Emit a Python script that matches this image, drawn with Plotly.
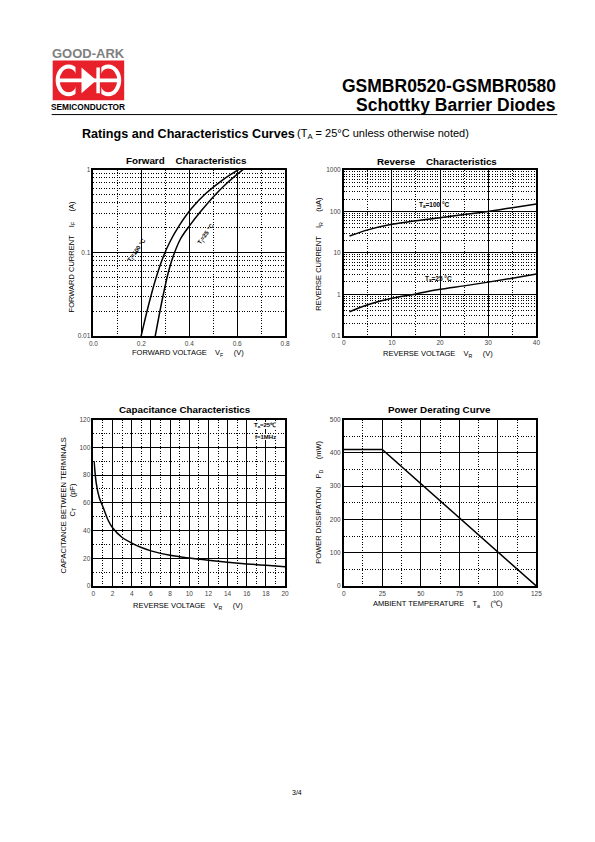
import plotly.graph_objects as go

PAGE_W, PAGE_H = 595, 842
FIG_W, FIG_H = 602, 842   # the snapshot squeezes the page slightly in width
FONT = "Liberation Sans, Arial, sans-serif"

# ---------------- data ----------------
fwd_vf_100 = [0.199, 0.23, 0.26, 0.29, 0.32, 0.36, 0.41, 0.47, 0.54, 0.606]
fwd_if_100 = [0.01, 0.0235, 0.0486, 0.0875, 0.137, 0.217, 0.344, 0.52, 0.755, 1.0]
fwd_vf_25 = [0.258, 0.29, 0.315, 0.338, 0.365, 0.40, 0.45, 0.50, 0.56, 0.624]
fwd_if_25 = [0.01, 0.030, 0.062, 0.1, 0.15, 0.21, 0.32, 0.47, 0.70, 1.0]

rev_vr = [1.2, 5, 10, 15, 20, 25, 30, 35, 40]
rev_ir_100 = [25.5, 36, 49, 60, 71, 85, 100, 124, 151]
rev_ir_25 = [0.38, 0.56, 0.80, 1.02, 1.32, 1.60, 1.97, 2.45, 3.1]

cap_vr = [0.07, 0.3, 0.6, 1.0, 1.5, 2.0, 3.0, 4.0, 5.0, 6.0, 8.0, 10.0, 12.0, 14.0, 16.0, 18.0, 20.0]
cap_ct = [90, 74, 64, 57, 48, 42, 35, 31, 27.8, 25.4, 22.2, 20.2, 18.6, 17.2, 16.0, 15.0, 14.0]

pd_ta = [0, 25, 125]
pd_mw = [410, 410, 0]

fwd_yticks = [0.01, 0.1, 1]
fwd_yticktext = ["0.01", "0.1", "1"]
rev_yticks = [0.1, 1, 10, 100, 1000]
rev_yticktext = ["0.1", "1", "10", "100", "1000"]


def px(x):
    return x / PAGE_W


def py(y):
    return 1 - y / PAGE_H


fig = go.Figure()

boxes = {
    "1": (89, 282, 167, 335),
    "2": (341, 535, 167.5, 334.5),
    "3": (89, 282, 419, 587),
    "4": (341, 535, 419, 587),
}

tickfont = dict(family=FONT, size=6.5, color="#444")
DOTS = "1px,1.6px"


def axis_common(dom, major, minor, rng, axtype="linear", tickvals=None, ticktext=None, fmt=None):
    d = dict(
        domain=dom, range=rng, type=axtype,
        showline=True, linecolor="black", linewidth=1.5, mirror=True,
        showgrid=True, gridcolor="black", gridwidth=1,
        ticks="", tickfont=tickfont, zeroline=False, fixedrange=True,
        minor=dict(showgrid=True, gridcolor="black", gridwidth=1, griddash=DOTS, dtick=minor),
    )
    if tickvals is not None:
        d["tickvals"] = tickvals
        d["ticktext"] = ticktext
    else:
        d["dtick"] = major
        d["tick0"] = 0
    if fmt:
        d["tickformat"] = fmt
    return d


layout_axes = {}
x0, x1, y0, y1 = boxes["1"]
layout_axes["xaxis"] = axis_common([px(x0), px(x1)], 0.2, 0.1, [0, 0.8], fmt=".1f")
layout_axes["yaxis"] = axis_common([py(y1), py(y0)], None, "D1", [-2, 0], "log", fwd_yticks, fwd_yticktext)
layout_axes["yaxis"]["anchor"] = "x"
layout_axes["xaxis"]["anchor"] = "y"
x0, x1, y0, y1 = boxes["2"]
layout_axes["xaxis2"] = axis_common([px(x0), px(x1)], 10, 5, [0, 40])
layout_axes["yaxis2"] = axis_common([py(y1), py(y0)], None, "D1", [-1, 3], "log", rev_yticks, rev_yticktext)
layout_axes["xaxis2"]["anchor"] = "y2"
layout_axes["yaxis2"]["anchor"] = "x2"
x0, x1, y0, y1 = boxes["3"]
layout_axes["xaxis3"] = axis_common([px(x0), px(x1)], 2, 1, [0, 20])
layout_axes["yaxis3"] = axis_common([py(y1), py(y0)], 20, 10, [0, 120])
layout_axes["xaxis3"]["anchor"] = "y3"
layout_axes["yaxis3"]["anchor"] = "x3"
x0, x1, y0, y1 = boxes["4"]
layout_axes["xaxis4"] = axis_common([px(x0), px(x1)], 25, 12.5, [0, 125])
layout_axes["yaxis4"] = axis_common([py(y1), py(y0)], 100, 50, [0, 500])
layout_axes["xaxis4"]["anchor"] = "y4"
layout_axes["yaxis4"]["anchor"] = "x4"

line = dict(color="black", width=1.5)
fig.add_trace(go.Scatter(x=fwd_vf_100, y=fwd_if_100, mode="lines", line=dict(line, shape="spline"), xaxis="x", yaxis="y"))
fig.add_trace(go.Scatter(x=fwd_vf_25, y=fwd_if_25, mode="lines", line=dict(line, shape="spline"), xaxis="x", yaxis="y"))
fig.add_trace(go.Scatter(x=rev_vr, y=rev_ir_100, mode="lines", line=dict(line, shape="spline"), xaxis="x2", yaxis="y2"))
fig.add_trace(go.Scatter(x=rev_vr, y=rev_ir_25, mode="lines", line=dict(line, shape="spline"), xaxis="x2", yaxis="y2"))
fig.add_trace(go.Scatter(x=cap_vr, y=cap_ct, mode="lines", line=dict(line, shape="spline"), xaxis="x3", yaxis="y3"))
fig.add_trace(go.Scatter(x=pd_ta, y=pd_mw, mode="lines", line=line, xaxis="x4", yaxis="y4"))

ann = []


def text(x, y, s, size=7, bold=False, color="black", xanchor="center", angle=0, bg=None):
    if bold:
        s = "<b>" + s + "</b>"
    a = dict(x=px(x), y=py(y), xref="paper", yref="paper", text=s, showarrow=False,
             font=dict(family=FONT, size=size, color=color), xanchor=xanchor, yanchor="middle",
             textangle=angle, borderpad=0, borderwidth=0)
    if bg:
        a["bgcolor"] = bg
    ann.append(a)


# header
text(555, 82.5, "GSMBR0520-GSMBR0580", 17.5, True, xanchor="right")
text(555, 101.5, "Schottky Barrier Diodes", 17.5, True, xanchor="right")
text(78, 131, "Ratings and Characteristics Curves", 12.6, True, xanchor="left")
text(294, 131, "(T<sub>A</sub> = 25°C unless otherwise noted)", 11, xanchor="left")
text(84, 50, "GOOD-ARK", 13, True, color="#808080")
text(84, 104, "SEMICONDUCTOR", 8.3, True)
text(294, 795, "3/4", 7)

# chart titles
text(183, 158, "Forward    Characteristics", 9.8, True)
text(435, 159, "Reverse    Characteristics", 9.8, True)
text(181, 409, "Capacitance Characteristics", 9.8, True)
text(437, 409, "Power Derating Curve", 9.8, True)

# axis titles
text(184, 352, "FORWARD VOLTAGE    V<sub>F</sub>     (V)", 7.5)
text(67, 255, "FORWARD CURRENT    I<sub>F</sub>     (A)", 7.5, angle=-90)
text(436, 353, "REVERSE VOLTAGE    V<sub>R</sub>     (V)", 7.5)
text(316, 252, "REVERSE CURRENT    I<sub>R</sub>     (uA)", 7.5, angle=-90)
text(184, 607, "REVERSE VOLTAGE    V<sub>R</sub>     (V)", 7.5)
text(59, 506, "CAPACITANCE BETWEEN TERMINALS", 7.5, angle=-90)
text(68, 500, "C<sub>T</sub>     (pF)", 7.5, angle=-90)
text(436, 605, "AMBIENT TEMPERATURE    T<sub>a</sub>     (℃)", 7.5)
text(316, 502, "POWER DISSIPATION    P<sub>D</sub>     (mW)", 7.5, angle=-90)

# in-plot labels
text(133, 249, "T<sub>j</sub>=100 °C", 6, True, angle=-55)
text(202, 232, "T<sub>j</sub>=25 °C", 6, True, angle=-55)
text(432, 203, "T<sub>a</sub>=100 °C", 6.5, True)
text(436, 277.5, "T<sub>a</sub>=25 °C", 6.5, True)
text(262, 425, "T<sub>a</sub>=25℃", 6, True, bg="white")
text(262, 437, "f=1MHz", 6, True, bg="white")

shapes = []
shapes.append(dict(type="line", xref="paper", yref="paper", x0=px(47), x1=px(556), y0=py(111.5), y1=py(111.5),
                   line=dict(color="black", width=1)))
# logo
shapes.append(dict(type="rect", xref="paper", yref="paper", x0=px(48), x1=px(120), y0=py(97), y1=py(57),
                   fillcolor="#e8202a", line=dict(width=0)))
shapes.append(dict(type="circle", xref="paper", yref="paper", x0=px(53), x1=px(75), y0=py(91), y1=py(63),
                   line=dict(color="white", width=4)))
shapes.append(dict(type="circle", xref="paper", yref="paper", x0=px(93), x1=px(115), y0=py(91), y1=py(63),
                   line=dict(color="white", width=4)))
shapes.append(dict(type="rect", xref="paper", yref="paper", x0=px(71), x1=px(97), y0=py(92), y1=py(62),
                   fillcolor="#e8202a", line=dict(width=0)))
shapes.append(dict(type="path", xref="paper", yref="paper",
                   path=f"M {px(77)} {py(64)} L {px(92)} {py(77)} L {px(77)} {py(90)} Z",
                   fillcolor="white", line=dict(width=0)))
shapes.append(dict(type="rect", xref="paper", yref="paper", x0=px(54), x1=px(114), y0=py(79), y1=py(75),
                   fillcolor="white", line=dict(width=0)))
shapes.append(dict(type="rect", xref="paper", yref="paper", x0=px(92), x1=px(95.5), y0=py(90), y1=py(64),
                   fillcolor="white", line=dict(width=0)))

fig.update_layout(
    width=FIG_W, height=FIG_H, autosize=False,
    margin=dict(l=0, r=0, t=0, b=0),
    paper_bgcolor="white", plot_bgcolor="white",
    showlegend=False,
    annotations=ann, shapes=shapes,
    font=dict(family=FONT),
    **layout_axes,
)

fig.write_html("out.html", config={"displayModeBar": False},
               post_script="document.body.style.margin='0';document.body.style.overflow='hidden';")
